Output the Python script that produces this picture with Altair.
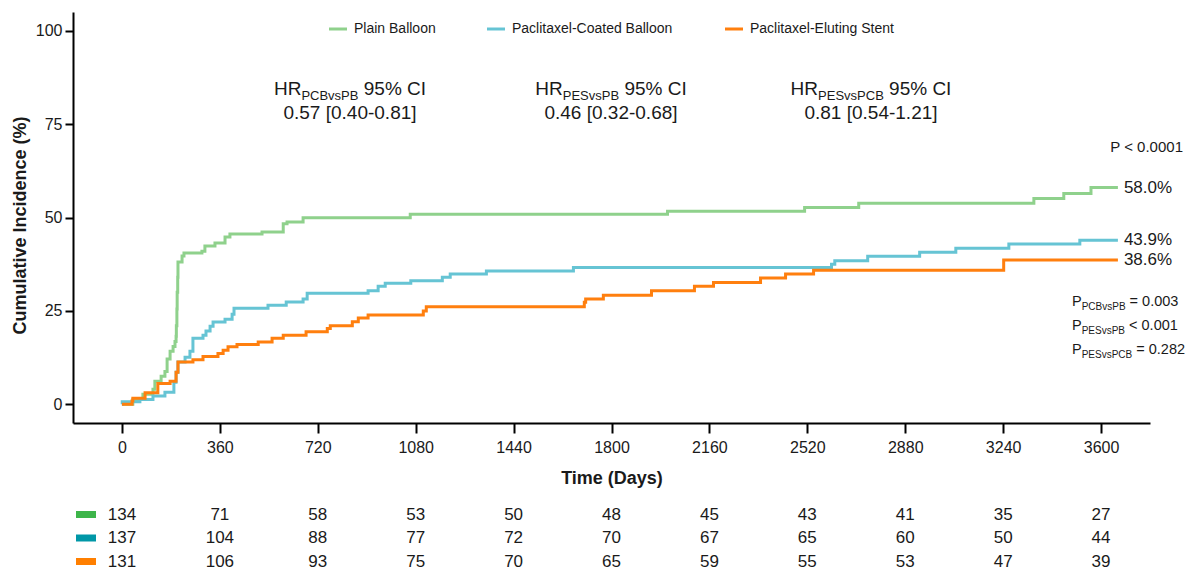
import altair as alt
import pandas as pd

FONT = "Liberation Sans"

groups = ["Plain Balloon", "Paclitaxel-Coated Balloon", "Paclitaxel-Eluting Stent"]
line_colors = ["#8fd18c", "#66c4d4", "#ff7f0e"]
table_colors = ["#3db54a", "#0097a7", "#ff7f00"]

pb_days = [0, 40, 77, 114, 121, 144, 158, 166, 177, 188, 195, 199, 200, 202, 203, 205, 206, 221, 228,
           294, 305, 342, 379, 397, 515, 593, 607, 666, 1060, 2006, 2510, 2709, 3353, 3463, 3563, 3662]
pb_pct = [0, 1.3, 2.7, 4.0, 6.2, 7.5, 8.8, 12.1, 14.2, 15.5, 16.8, 18.2, 21.0, 25.5, 30.0, 34.0, 38.1, 39.7, 40.5,
          41.0, 42.4, 43.2, 44.8, 45.6, 46.1, 48.3, 48.8, 49.9, 50.9, 51.7, 52.7, 53.8, 55.1, 56.4, 58.0, 58.0]

pcb_days = [0, 1, 66, 114, 158, 191, 199, 206, 232, 250, 261, 298, 309, 324, 335, 379, 405, 412, 537, 604,
            666, 681, 905, 942, 968, 1062, 1178, 1207, 1340, 1660, 2609, 2621, 2742, 2933, 3066, 3261, 3522, 3662]
pcb_pct = [0, 0.7, 1.3, 2.2, 3.2, 5.9, 8.6, 11.3, 12.6, 14.2, 17.7, 18.5, 19.6, 20.9, 22.0, 22.8, 24.1, 25.7, 26.5, 27.4,
           28.2, 29.7, 30.4, 31.6, 32.4, 33.1, 34.0, 34.9, 35.7, 36.6, 37.5, 38.4, 39.6, 40.7, 41.8, 42.9, 43.9, 43.9]

pes_days = [0, 37, 40, 85, 132, 177, 199, 206, 261, 298, 353, 372, 390, 423, 501, 552, 593, 677, 755, 766,
            847, 869, 905, 1108, 1119, 1700, 1705, 1770, 1947, 2105, 2175, 2348, 2440, 2543, 3242, 3662]
pes_pct = [0, 0.9, 1.6, 3.1, 5.6, 6.2, 8.6, 11.3, 11.9, 12.8, 13.6, 14.5, 15.4, 16.0, 16.7, 17.7, 18.5, 19.4, 20.3, 21.0,
           22.1, 23.1, 23.9, 25.0, 26.1, 27.3, 28.2, 29.2, 30.4, 31.6, 32.6, 33.8, 34.9, 35.9, 38.6, 38.6]

final_labels = ["58.0%", "43.9%", "38.6%"]

risk_times = [0, 360, 720, 1080, 1440, 1800, 2160, 2520, 2880, 3240, 3600]
risk_pb = [134, 71, 58, 53, 50, 48, 45, 43, 41, 35, 27]
risk_pcb = [137, 104, 88, 77, 72, 70, 67, 65, 60, 50, 44]
risk_pes = [131, 106, 93, 75, 70, 65, 59, 55, 53, 47, 39]

hr_subs = ["PCBvsPB", "PESvsPB", "PESvsPCB"]
hr_tail = "95% CI"
hr_values = ["0.57 [0.40-0.81]", "0.46 [0.32-0.68]", "0.81 [0.54-1.21]"]
p_subs = ["PCBvsPB", "PESvsPB", "PESvsPCB"]
p_rest = ["= 0.003", "< 0.001", "= 0.282"]
overall_p = "P < 0.0001"

x_ticks = risk_times
y_ticks = [0, 25, 50, 75, 100]

# ---------------------------------------------------------------- layout
W, H = 1077, 411
TXT = "#1a1a1a"

AW = {'H': 722, 'R': 722, 'P': 667, 'C': 722, 'B': 667, 'E': 667, 'S': 667, 'v': 500, 's': 500,
      ' ': 278, '%': 889, 'I': 278, '=': 584, '<': 584, '.': 278}


def tw(s, size):
    return sum(AW.get(c, 556) for c in s) * size / 1000.0


x_scale = alt.Scale(domain=[-180, 3780], nice=False, zero=False)
y_scale = alt.Scale(domain=[-5, 105], nice=False, zero=False)

x_axis = alt.Axis(values=x_ticks, format="d", grid=False, labelFontSize=16, labelFont=FONT, labelColor=TXT,
                  tickSize=10, tickWidth=2, tickColor="black", domainColor="black", domainWidth=2,
                  labelPadding=6, titleFontSize=18, titleFont=FONT, titleFontWeight="bold",
                  titleColor=TXT, titlePadding=14, title="Time (Days)")
y_axis = alt.Axis(values=y_ticks, grid=False, labelFontSize=16, labelFont=FONT, labelColor=TXT,
                  tickSize=8, tickWidth=2, tickColor="black", domainColor="black", domainWidth=2,
                  labelPadding=3, titleFontSize=18, titleFont=FONT, titleFontWeight="bold",
                  titleColor=TXT, titlePadding=6, titleY=213, title="Cumulative Incidence (%)")


def X(field):
    return alt.X(field, type="quantitative", scale=x_scale, axis=x_axis, title="Time (Days)")


def Y(field):
    return alt.Y(field, type="quantitative", scale=y_scale, axis=y_axis, title="Cumulative Incidence (%)")


layers = []

curves = [(pb_days, pb_pct), (pcb_days, pcb_pct), (pes_days, pes_pct)]
for g, (d, p), c in zip(groups, curves, line_colors):
    df = pd.DataFrame({"day": d, "pct": p, "idx": range(len(d))})
    layers.append(
        alt.Chart(df).mark_line(interpolate="step-after", strokeWidth=3, color=c).encode(
            x=X("day"), y=Y("pct"), order="idx:Q"
        )
    )

# end labels
end_df = pd.DataFrame({
    "day": [d[-1] for d, _ in curves],
    "pct": [p[-1] for _, p in curves],
    "label": final_labels,
})
layers.append(
    alt.Chart(end_df).mark_text(align="left", baseline="middle", dx=6, fontSize=17, font=FONT, color=TXT)
    .encode(x=X("day"), y=Y("pct"), text="label:N")
)

# risk table
risk_rows = [risk_pb, risk_pcb, risk_pes]
row_y0 = 502.5
row_step = 23.5
for i, (vals, c) in enumerate(zip(risk_rows, table_colors)):
    ry = row_y0 + i * row_step
    df = pd.DataFrame({"time": risk_times, "n": [str(v) for v in vals]})
    layers.append(
        alt.Chart(df).mark_text(align="center", baseline="middle", fontSize=17, font=FONT, color=TXT)
        .encode(x=X("time"), y=alt.value(ry), text="n:N")
    )
    layers.append(
        alt.Chart(pd.DataFrame({"g": [groups[i]]})).mark_rule(strokeWidth=7, color=c)
        .encode(x=alt.value(3), x2=alt.value(23), y=alt.value(ry))
    )

# top legend
leg_x = [256, 414, 652]
leg_y = 17
for g, c, lx in zip(groups, line_colors, leg_x):
    layers.append(
        alt.Chart(pd.DataFrame({"g": [g]})).mark_rule(strokeWidth=3, color=c)
        .encode(x=alt.value(lx), x2=alt.value(lx + 18), y=alt.value(leg_y))
    )
    layers.append(
        alt.Chart(pd.DataFrame({"g": [g]})).mark_text(align="left", baseline="middle", fontSize=14,
                                                        font=FONT, color=TXT)
        .encode(x=alt.value(lx + 25), y=alt.value(leg_y), text="g:N")
    )


def txt(s, x, y, size, align="left"):
    return alt.Chart(pd.DataFrame({"t": [s]})).mark_text(
        align=align, baseline="alphabetic", fontSize=size, font=FONT, color=TXT
    ).encode(x=alt.value(x), y=alt.value(y), text="t:N")


# HR annotations (gap entries stand for the blank between pieces)
hr_centers = [277, 538, 798]
MAIN, SUB = 19, 13
GAP_HR = tw(" ", MAIN)
for cx, sub, val in zip(hr_centers, hr_subs, hr_values):
    pieces = [("HR", MAIN, 0, 0), (sub, SUB, 5, GAP_HR), (hr_tail, MAIN, 0, 0)]
    total = sum(tw(s, sz) + g for s, sz, _, g in pieces)
    x0 = cx - total / 2
    for s, sz, dy, g in pieces:
        layers.append(txt(s, x0, 83 + dy, sz))
        x0 += tw(s, sz) + g
    layers.append(txt(val, cx, 107, MAIN, align="center"))

# p values
layers.append(txt(overall_p, 1110, 140, 15, align="right"))
p_base = [294, 318, 342]
GAP_P = tw(" ", 14.5)
for sub, rest, by in zip(p_subs, p_rest, p_base):
    x0 = 999
    for s, sz, dy, g in [("P", 14.5, 0, 0), (sub, 10, 4, GAP_P), (rest, 14.5, 0, 0)]:
        layers.append(txt(s, x0, by + dy, sz))
        x0 += tw(s, sz) + g

chart = alt.layer(*layers).properties(
    width=W, height=H,
    autosize=alt.AutoSizeParams(type="none"),
    padding={"left": 65, "top": 4, "right": 36, "bottom": 150},
    background="white",
).configure_view(stroke=None)

chart.save("out.html", embed_options={"renderer": "svg", "actions": False})
